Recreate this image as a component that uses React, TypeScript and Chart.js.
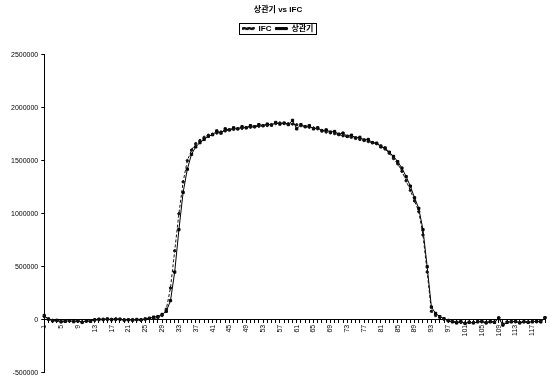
import React, { useEffect, useRef } from "react";
import { Chart, registerables } from "chart.js";

Chart.register(...registerables);

const TITLE = "상관기 vs IFC";
const SERIES_NAMES = ["IFC", "상관기"];

const categories: string[] = [];
for (let i = 1; i <= 120; i++) categories.push(String(i));

const yTicks = [2500000, 2000000, 1500000, 1000000, 500000, 0, -500000];

const ifcValues = [
  30000, 10000, -5000, -10000, -15000, -10000, -12000, -15000, -10000, -20000,
  -15000, -10000, -5000, 0, 5000, 3000, 5000, 8000, 3000, 0,
  -2000, 2000, 0, -5000, 5000, 10000, 12000, 20000, 40000, 100000,
  300000, 650000, 1000000, 1300000, 1500000, 1600000, 1660000, 1690000, 1720000, 1740000,
  1750000, 1760000, 1770000, 1780000, 1790000, 1795000, 1800000, 1805000, 1810000, 1815000,
  1820000, 1825000, 1830000, 1832000, 1840000, 1850000, 1855000, 1850000, 1848000, 1845000,
  1838000, 1830000, 1822000, 1815000, 1808000, 1800000, 1785000, 1770000, 1762000, 1755000,
  1745000, 1735000, 1728000, 1720000, 1710000, 1700000, 1690000, 1680000, 1670000, 1660000,
  1640000, 1610000, 1570000, 1520000, 1470000, 1400000, 1310000, 1220000, 1120000, 1020000,
  800000, 450000, 80000, 40000, 20000, 5000, -5000, -15000, -20000, -25000,
  -30000, -20000, -25000, -15000, -20000, -25000, -15000, -20000, 20000, -40000,
  -20000, -15000, -20000, -25000, -15000, -20000, -15000, -20000, -10000, 20000,
];

const corrValues = [
  40000, 5000, -10000, -5000, -20000, -15000, -8000, -18000, -12000, -25000,
  -10000, -15000, 0, 5000, 2000, 8000, 0, 5000, 6000, -3000,
  0, -4000, 3000, 0, 8000, 15000, 25000, 30000, 50000, 80000,
  180000, 450000, 850000, 1200000, 1420000, 1560000, 1630000, 1670000, 1700000, 1730000,
  1745000, 1780000, 1760000, 1800000, 1790000, 1810000, 1800000, 1820000, 1810000, 1830000,
  1820000, 1840000, 1830000, 1845000, 1835000, 1860000, 1845000, 1855000, 1840000, 1880000,
  1800000, 1840000, 1820000, 1830000, 1800000, 1810000, 1780000, 1790000, 1770000, 1775000,
  1750000, 1760000, 1730000, 1740000, 1715000, 1720000, 1695000, 1700000, 1670000, 1665000,
  1630000, 1620000, 1580000, 1540000, 1490000, 1430000, 1350000, 1260000, 1150000, 1050000,
  850000, 500000, 120000, 60000, 30000, 10000, -10000, -20000, -30000, -15000,
  -35000, -25000, -30000, -20000, -15000, -30000, -20000, -25000, 15000, -50000,
  -25000, -20000, -15000, -30000, -20000, -25000, -20000, -15000, -20000, 20000,
];

const FONT = "'Liberation Sans', 'Noto Sans CJK KR', sans-serif";

const legendBox = {
  id: "legendBox",
  beforeInit(chart: any) {
    const lg = chart.legend;
    if (lg && !lg.__patched) {
      const orig = lg.fit;
      lg.fit = function () {
        orig.call(this);
        this.height += 12;
      };
      lg.__patched = true;
    }
  },
  afterDraw(chart: any) {
    const l = chart.legend;
    if (!l || !l.legendHitBoxes || !l.legendHitBoxes.length) return;
    const hb = l.legendHitBoxes;
    let minX = Infinity, maxX = -Infinity, minY = Infinity, maxY = -Infinity;
    for (const b of hb) {
      minX = Math.min(minX, b.left);
      maxX = Math.max(maxX, b.left + b.width);
      minY = Math.min(minY, b.top);
      maxY = Math.max(maxY, b.top + b.height);
    }
    const ctx = chart.ctx;
    ctx.save();
    ctx.strokeStyle = "#000";
    ctx.lineWidth = 1;
    ctx.strokeRect(Math.round(minX - 4) + 0.5, Math.round(minY - 2) + 0.5, Math.round(maxX - minX + 6), Math.round(maxY - minY + 3));
    ctx.restore();
  },
};

export default function App() {
  const ref = useRef<HTMLCanvasElement | null>(null);
  useEffect(() => {
    document.body.style.margin = "0";
    const chart = new Chart(ref.current!, {
      type: "line",
      data: {
        labels: categories,
        datasets: [
          {
            label: SERIES_NAMES[0],
            data: ifcValues,
            borderColor: "#111",
            backgroundColor: "#111",
            borderWidth: 1,
            borderDash: [3, 2],
            pointRadius: 1.2,
            pointStyle: "circle",
            tension: 0,
          },
          {
            label: SERIES_NAMES[1],
            data: corrValues,
            borderColor: "#000",
            backgroundColor: "#000",
            borderWidth: 1,
            pointRadius: 1.6,
            pointStyle: "rect",
            tension: 0,
          },
        ],
      },
      options: {
        animation: false,
        responsive: true,
        maintainAspectRatio: false,
        layout: { padding: { left: 8, right: 2, top: 3, bottom: 4 } },
        plugins: {
          title: {
            display: true,
            text: TITLE,
            color: "#000",
            font: { family: FONT, size: 8, weight: "bold" },
            padding: { top: 2, bottom: 6 },
          },
          legend: {
            display: true,
            labels: {
              color: "#000",
              font: { family: FONT, size: 8, weight: "bold" },
              boxWidth: 12,
              boxHeight: 2,
              padding: 4,
            },
          },
          tooltip: { enabled: false },
        },
        scales: {
          x: {
            position: { y: 0 } as any,
            offset: false,
            afterFit: (scale: any) => {
              scale.paddingRight = 0;
              scale.paddingLeft = 0;
            },
            grid: { display: true, drawOnChartArea: false, drawTicks: true, tickLength: 3, color: "#000" },
            border: { display: true, color: "#000", width: 1 },
            ticks: {
              autoSkip: false,
              maxRotation: 90,
              minRotation: 90,
              color: "#000",
              font: { family: FONT, size: 7 },
              padding: 2,
              callback: (_v: any, i: number) => (i % 4 === 0 ? categories[i] : ""),
            },
          },
          y: {
            min: -500000,
            max: 2500000,
            afterBuildTicks: (axis: any) => {
              axis.ticks = yTicks.map((v) => ({ value: v }));
            },
            grid: { display: true, drawOnChartArea: false, drawTicks: true, tickLength: 3, color: "#000" },
            border: { display: true, color: "#000", width: 1 },
            ticks: {
              color: "#000",
              font: { family: FONT, size: 7 },
              padding: 3,
              callback: (v: any) => String(v),
            },
          },
        },
      },
      plugins: [legendBox],
    });
    return () => chart.destroy();
  }, []);
  return (
    <div style={{ width: 550, height: 380, position: "relative" }}>
      <canvas ref={ref} />
    </div>
  );
}
